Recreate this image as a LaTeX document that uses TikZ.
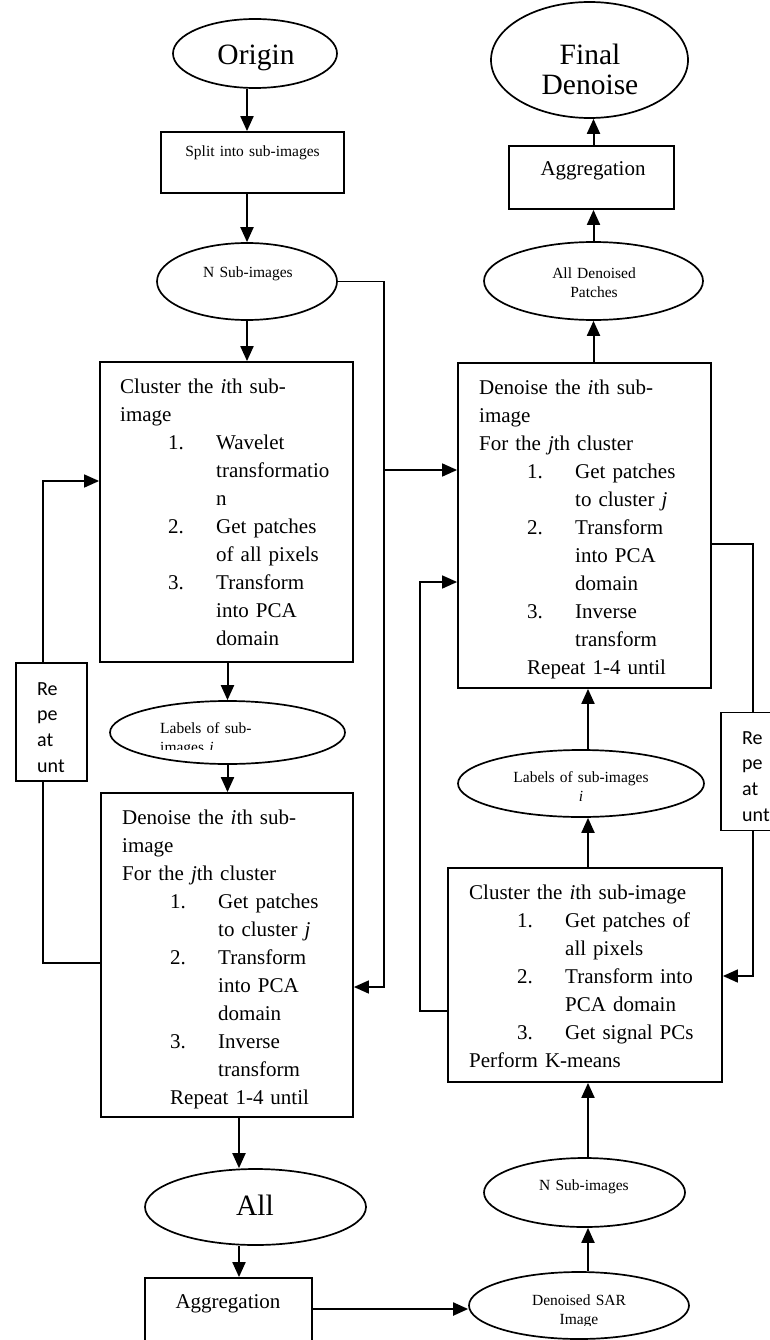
\documentclass[tikz,border=0pt]{standalone}
\usepackage{fontspec}
\setmainfont{Liberation Serif}
\newfontfamily\calibfont{Carlito}
\usetikzlibrary{shapes.geometric,arrows.meta,calc}
\newcommand\lsitem[2]{\hspace*{48pt}\makebox[48pt][l]{#1}#2}
\newcommand\lscont[1]{\hspace*{96pt}#1}
\begin{document}
\begin{tikzpicture}[x=1pt,y=-1pt,
  box/.style={draw,line width=1.8pt,rectangle,inner sep=0pt},
  repbox/.style={draw,line width=1.6pt,rectangle,inner sep=0pt,minimum width=71pt,minimum height=118pt},
  ell/.style={draw,line width=1.7pt,ellipse,inner sep=0pt},
  arr/.style={line width=2pt,-{Triangle[length=15pt,width=13pt]}},
  sidearr/.style={line width=1.6pt,-{Triangle[length=15pt,width=13pt]}},
  side/.style={line width=1.6pt},
  bigtxt/.style={font=\fontsize{21}{28}\selectfont,inner sep=0pt,text width=280pt,align=left,anchor=base west},
  smalltxt/.style={font=\fontsize{15.5}{19}\selectfont,inner sep=0pt,text width=230pt,align=center,anchor=base},
  midtxt/.style={font=\fontsize{21}{28}\selectfont,inner sep=0pt,text width=200pt,align=center,anchor=base},
  hugetxt/.style={font=\fontsize{29.5}{30}\selectfont,inner sep=0pt,text width=200pt,align=center,anchor=base},
  reptxt/.style={font=\calibfont\fontsize{20}{25.7}\selectfont,inner sep=0pt,text width=45pt,align=left,anchor=base west}
]
\fill[white] (0,0) rectangle (770,1340);
\useasboundingbox (0,0) rectangle (770,1340);

% ---------- left column ----------
\node[ell,minimum width=164pt,minimum height=69pt] (orig) at (255,53.5) {};
\node[hugetxt] (origt) at (256,65) {Origin};

\node[box,minimum width=183pt,minimum height=61pt] (split) at (252.5,162.5) {};
\node[smalltxt] (splitt) at (252.5,157) {Split into sub-images};

\node[ell,minimum width=180pt,minimum height=77pt] (nsub1) at (247,281.5) {};
\node[smalltxt] (nsub1t) at (248,277) {N Sub-images};

\node[box,minimum width=253pt,minimum height=300pt] (cl1) at (226.5,512) {};
\node[bigtxt] (cl1t) at (120,393) {Cluster the \textit{i}th sub-\\
image\\
\lsitem{1.}{Wavelet}\\
\lscont{transformatio}\\
\lscont{n}\\
\lsitem{2.}{Get patches}\\
\lscont{of all pixels}\\
\lsitem{3.}{Transform}\\
\lscont{into PCA}\\
\lscont{domain}};

\node[ell,minimum width=235pt,minimum height=63pt] (lab1) at (227.5,732.5) {};
\begin{scope}
\clip (100,700) rectangle (360,749);
\node[font=\fontsize{15.5}{19}\selectfont,inner sep=0pt,text width=150pt,align=left,anchor=base west] (lab1t) at (160,733) {Labels of sub-\\images \textit{i}};
\end{scope}

\node[box,minimum width=252pt,minimum height=324pt] (den1) at (227,955) {};
\node[bigtxt] (den1t) at (122,824) {Denoise the \textit{i}th sub-\\
image\\
For the \textit{j}th cluster\\
\lsitem{1.}{Get patches}\\
\lscont{to cluster \textit{j}}\\
\lsitem{2.}{Transform}\\
\lscont{into PCA}\\
\lscont{domain}\\
\lsitem{3.}{Inverse}\\
\lscont{transform}\\
\hspace*{48pt}Repeat 1-4 until};

\node[ell,minimum width=221pt,minimum height=76pt] (all) at (255.5,1207) {};
\node[hugetxt] (allt) at (255,1215) {All};

\node[box,minimum width=167pt,minimum height=67pt] (agg1) at (228.5,1311.5) {};
\node[midtxt] (agg1t) at (228,1308) {Aggregation};

\node[repbox] (rep1) at (51.5,722) {};
\node[reptxt] (rep1t) at (37,695) {Re\\pe\\at\\unt};

% ---------- right column ----------
\node[ell,minimum width=197pt,minimum height=116pt] (fin) at (589.5,60) {};
\node[hugetxt] (fint) at (590,65) {Final\\Denoise};

\node[box,minimum width=165pt,minimum height=63pt] (agg2) at (591.5,177.5) {};
\node[midtxt] (agg2t) at (593,176) {Aggregation};

\node[ell,minimum width=219pt,minimum height=78pt] (alld) at (593.5,281) {};
\node[smalltxt] (alldt) at (594,278) {All Denoised\\Patches};

\node[box,minimum width=253pt,minimum height=325pt] (den2) at (584.5,525.5) {};
\node[bigtxt] (den2t) at (479,394) {Denoise the \textit{i}th sub-\\
image\\
For the \textit{j}th cluster\\
\lsitem{1.}{Get patches}\\
\lscont{to cluster \textit{j}}\\
\lsitem{2.}{Transform}\\
\lscont{into PCA}\\
\lscont{domain}\\
\lsitem{3.}{Inverse}\\
\lscont{transform}\\
\hspace*{48pt}Repeat 1-4 until};

\node[ell,minimum width=246pt,minimum height=67pt] (lab2) at (581,783.5) {};
\node[smalltxt] (lab2t) at (581,782) {Labels of sub-images\\\textit{i}};

\node[box,minimum width=274pt,minimum height=214pt] (cl2) at (585,975) {};
\node[bigtxt] (cl2t) at (469,899) {Cluster the \textit{i}th sub-image\\
\lsitem{1.}{Get patches of}\\
\lscont{all pixels}\\
\lsitem{2.}{Transform into}\\
\lscont{PCA domain}\\
\lsitem{3.}{Get signal PCs}\\
Perform K-means};

\node[ell,minimum width=201pt,minimum height=69pt] (nsub2) at (584.5,1192.5) {};
\node[smalltxt] (nsub2t) at (584,1190) {N Sub-images};

\node[ell,minimum width=220pt,minimum height=67pt] (sar) at (579,1305.5) {};
\begin{scope}
\clip (460,1270) rectangle (700,1325);
\node[smalltxt] (sart) at (579,1305) {Denoised SAR\\Image};
\end{scope}

\node[repbox] (rep2) at (756.5,771.5) {};
\node[reptxt] (rep2t) at (742,744) {Re\\pe\\at\\unt};

% ---------- helper coordinates ----------
\coordinate (ax) at (239,1140);
\coordinate (ay) at (400,1309);
\coordinate (lp1) at (43,481);
\coordinate (lp2) at (43,963);
\coordinate (r1) at (384,470);
\coordinate (r2) at (384,987);
\coordinate (r3) at (420,582);
\coordinate (r4) at (420,1011);
\coordinate (r5) at (753,544);
\coordinate (r6) at (753,976);
\coordinate (vx) at (588,800);

% ---------- connectors: left ----------
\draw[arr] (orig.south -| nsub1) -- (split.north -| nsub1);
\draw[arr] (split.south -| nsub1) -- (nsub1.north);
\draw[arr] (nsub1.south) -- (cl1.north -| nsub1);
\draw[arr] (cl1.south -| lab1) -- (lab1.north);
\draw[arr] (lab1.south) -- (den1.north -| lab1);
\draw[arr] (den1.south -| ax) -- (all.north -| ax);
\draw[arr] (all.south -| ax) -- (agg1.north -| ax);
\draw[arr] (agg1.east |- ay) -- (ay -| sar.west);
\draw[sidearr] (rep1.north -| lp1) |- (cl1.west |- lp1);
\draw[side] (rep1.south -| lp2) |- (den1.west |- lp2);
\draw[sidearr] (nsub1.east) -| (r2) -- (r2 -| den1.east);
\draw[sidearr] (r1) -- (r1 -| den2.west);

% ---------- connectors: right ----------
\draw[arr] (den2.north -| alld) -- (alld.south);
\draw[arr] (alld.north) -- (agg2.south -| alld);
\draw[arr] (agg2.north -| alld) -- (fin.south -| alld);
\draw[sidearr] (r4 -| cl2.west) -- (r4) |- (den2.west |- r3);
\draw[side] (den2.east |- r5) -| (rep2.north -| r5);
\draw[sidearr] (rep2.south -| r6) |- (cl2.east |- r6);
\draw[arr] (lab2.north -| vx) -- (den2.south -| vx);
\draw[arr] (cl2.north -| vx) -- (lab2.south -| vx);
\draw[arr] (nsub2.north -| vx) -- (cl2.south -| vx);
\draw[arr] (sar.north -| vx) -- (nsub2.south -| vx);
\end{tikzpicture}
\end{document}
